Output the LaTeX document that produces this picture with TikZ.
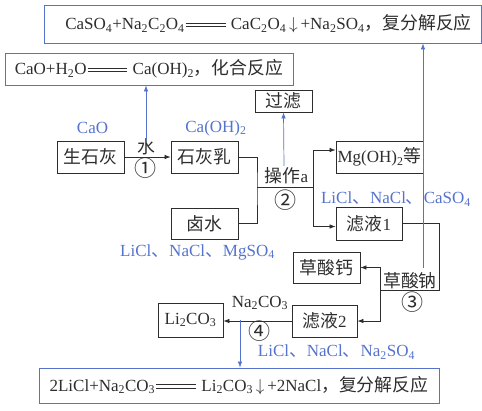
\documentclass[tikz,border=0pt]{standalone}
\usepackage{fontspec}
\setmainfont{Liberation Serif}
\newfontfamily\cjk{Noto Sans CJK SC}[Scale=1.05]
\usetikzlibrary{arrows.meta}
\definecolor{bl}{RGB}{85,115,205}
\definecolor{dk}{RGB}{45,45,45}
\newcommand\zh[1]{{\cjk #1}}
\newcommand\cnum[1]{{\cjk\fontsize{21}{21}\selectfont #1}}
\newcommand\sub[1]{\textsubscript{#1}}
\newcommand\lEq{\kern1pt\rlap{\raisebox{0.17em}{\rule{2.35em}{0.6pt}}}\raisebox{0.38em}{\rule{2.35em}{0.6pt}}\kern1pt}
\begin{document}
\begin{tikzpicture}[x=1pt,y=-1pt,font=\fontsize{17}{20}\selectfont,
  box/.style={draw=dk,line width=0.8pt,inner sep=0pt,text=dk},
  eqbox/.style={draw=bl,line width=0.8pt,inner sep=0pt,text=dk},
  lbl/.style={text=bl,inner sep=0pt},
  tlbl/.style={text=dk,inner sep=0pt},
  ln/.style={draw=dk,line width=0.7pt},
  arr/.style={ln,-{Latex[length=6pt,width=4.5pt]}},
  barr/.style={draw=bl,line width=0.7pt,-{Latex[length=6pt,width=4.5pt]}}]
\useasboundingbox (0,0) rectangle (482,410);

% equation boxes
\node[eqbox,minimum width=437pt,minimum height=38pt] (top) at (262.5,24)
  {\hspace{12pt}CaSO\sub4+Na\sub2C\sub2O\sub4\lEq{} CaC\sub2O\sub4\,$\downarrow$\,+Na\sub2SO\sub4\zh{，复分解反应}};
\node[eqbox,minimum width=288pt,minimum height=32pt] (eqb) at (149,69)
  {CaO+H\sub2O\lEq{} Ca(OH)\sub2\zh{，化合反应}};
\node[eqbox,minimum width=400pt,minimum height=35pt] (bot) at (239,385.5)
  {2LiCl+Na\sub2CO\sub3\lEq{} Li\sub2CO\sub3\,$\downarrow$\,+2NaCl\zh{，复分解反应}};

% process boxes
\node[box,minimum width=67pt,minimum height=32pt] (shi) at (90.5,157) {\zh{生石灰}};
\node[box,minimum width=67pt,minimum height=32pt] (ru) at (204.5,157) {\zh{石灰乳}};
\node[box,minimum width=67pt,minimum height=31pt] (lu) at (204.5,223.5) {\zh{卤水}};
\node[box,minimum width=57pt,minimum height=22pt] (gl) at (283.5,101) {\zh{过滤}};
\node[box,minimum width=87pt,minimum height=32pt] (mg) at (379.5,157) {Mg(OH)\sub2\zh{等}};
\node[box,minimum width=66pt,minimum height=33pt] (l1) at (369,223.5) {\zh{滤液}1};
\node[box,minimum width=67pt,minimum height=31pt] (cc) at (326.5,267.5) {\zh{草酸钙}};
\node[box,minimum width=65pt,minimum height=32pt] (l2) at (324.5,321) {\zh{滤液}2};
\node[box,minimum width=65pt,minimum height=34pt] (li) at (190.5,320) {Li\sub2CO\sub3};

% labels
\node[lbl] (cao) at (92.5,128) {CaO};
\node[lbl] (caoh) at (216,128) {Ca(OH)\sub2};
\node[tlbl] (shui) at (146,147) {\zh{水}};
\node[tlbl] (n1) at (146,168) {\cnum{①}};
\node[tlbl] (cz) at (286.5,176) {\zh{操作}a};
\node[tlbl] (n2) at (286,200) {\cnum{②}};
\node[lbl] (s1) at (396,199) {LiCl\zh{、}NaCl\zh{、}CaSO\sub4};
\node[lbl] (s0) at (197.5,252) {LiCl\zh{、}NaCl\zh{、}MgSO\sub4};
\node[tlbl] (cn) at (410,281) {\zh{草酸钠}};
\node[tlbl] (n3) at (413,302) {\cnum{③}};
\node[tlbl] (na) at (260,303) {Na\sub2CO\sub3};
\node[tlbl] (n4) at (260,331) {\cnum{④}};
\node[lbl] (s2) at (336.5,352) {LiCl\zh{、}NaCl\zh{、}Na\sub2SO\sub4};

% coordinates
\coordinate (w1) at (146,139);
\coordinate (jv) at (257,187);
\coordinate (jh) at (313,187);
\coordinate (c2) at (284,166);
\coordinate (r1) at (439,290);
\coordinate (r2) at (380,290);
\coordinate (b3) at (423,268);
\coordinate (b4) at (240,320);

% connectors
\draw[arr] (shi.east) -- (ru.west);
\draw[barr] (w1) -- (w1 |- eqb.south);
\draw[ln] (ru.east) -| (jv) |- (lu.east);
\draw[ln] (jv) -- (jh);
\draw[arr] (jh) |- ([yshift=7pt]mg.west);
\draw[arr] (jh) |- ([yshift=-3pt]l1.west);
\draw[barr] (c2) -- (gl.south);
\draw[ln] (l1.east) -| (r1) -- (r2);
\draw[arr] (r2) |- (cc.east);
\draw[arr] (r2) |- (l2.east);
\draw[barr] (b3) -- (b3 |- top.south);
\draw[arr] (l2.west) -- (l2.west -| li.east);
\draw[barr] (b4) -- (b4 |- bot.north);
\end{tikzpicture}
\end{document}
